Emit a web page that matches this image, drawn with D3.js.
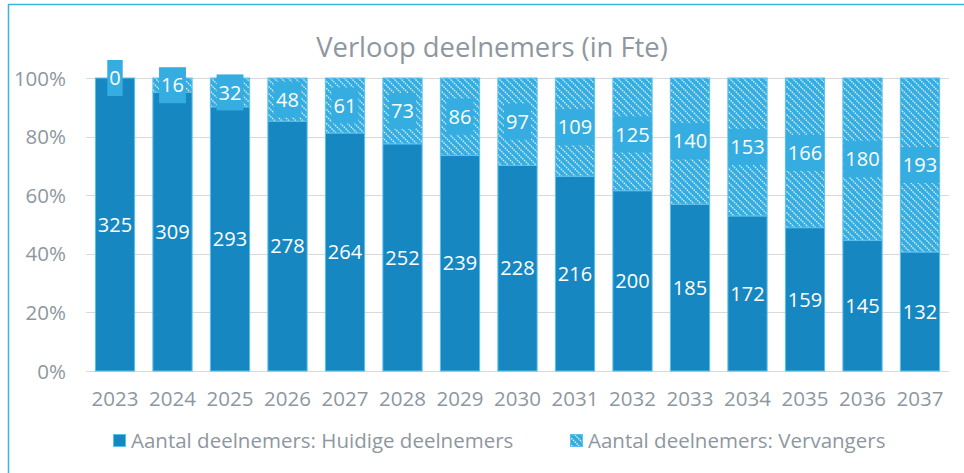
<!DOCTYPE html>
<html><head><meta charset="utf-8">
<script src="https://cdn.jsdelivr.net/npm/d3@7/dist/d3.min.js"></script>
<style>
html,body{margin:0;padding:0;background:#fff;}
svg{display:block;font-family:"Open Sans","Noto Sans",sans-serif;}
</style></head>
<body>
<svg id="chart" width="964" height="473"></svg>
<script>
const years = ["2023","2024","2025","2026","2027","2028","2029","2030","2031","2032","2033","2034","2035","2036","2037"];
const huidige = [325,309,293,278,264,252,239,228,216,200,185,172,159,145,132];
const vervangers = [0,16,32,48,61,73,86,97,109,125,140,153,166,180,193];
const yTicks = [0,0.2,0.4,0.6,0.8,1];
const seriesNames = ["Aantal deelnemers: Huidige deelnemers","Aantal deelnemers: Vervangers"];
const title = "Verloop deelnemers (in Fte)";

const svg = d3.select("#chart");
const W = 964, H = 473;
const darkBlue = "#1787C2", lightBlue = "#35ADE0", edge = "#5BC0EB";
const textGray = "#8E979F";
const axisFont = 20.5;

// border
svg.append("path").attr("d", `M8.5,${H} L8.5,4.5 L${W},4.5`).attr("fill","none").attr("stroke","#3BB3E3").attr("stroke-width",1.5);

// pattern
const defs = svg.append("defs");
const pat = defs.append("pattern").attr("id","hatch").attr("patternUnits","userSpaceOnUse").attr("width",7).attr("height",7);
pat.append("rect").attr("width",7).attr("height",7).attr("fill",lightBlue);
pat.append("path").attr("d","M-1,-1 L8,8 M-1,6 L1,8 M6,-1 L8,1").attr("stroke","#fff").attr("stroke-width",1.3).attr("stroke-opacity",0.85).attr("stroke-dasharray","1.5,1");

const data = years.map((y,i)=>{
  const tot = huidige[i]+vervangers[i];
  return {year:y, h:huidige[i], v:vervangers[i], hp:huidige[i]/tot, vp:vervangers[i]/tot};
});

const x = d3.scaleBand().domain(years).range([86.25,948.75]).paddingInner(0.3).paddingOuter(0.15);
const y = d3.scaleLinear().domain([0,1]).range([371,78]);

// gridlines
svg.append("g").selectAll("line").data(yTicks).join("line")
  .attr("x1",86).attr("x2",949).attr("y1",d=>Math.round(y(d))+0.5).attr("y2",d=>Math.round(y(d))+0.5)
  .attr("stroke","#D9D9D9").attr("stroke-width",1);

// y axis labels
const yAxis = d3.axisLeft(y).tickValues(yTicks).tickFormat(d3.format(".0%")).tickSize(0).tickPadding(0);
const gy = svg.append("g").attr("transform","translate(66,0)").call(yAxis);
gy.select(".domain").remove();
gy.selectAll("text").attr("fill",textGray).attr("font-size",axisFont).attr("font-family","Open Sans").attr("dy","0.35em");

// x axis labels
const xAxis = d3.axisBottom(x).tickSize(0).tickPadding(0);
const gx = svg.append("g").attr("transform","translate(0,391)").call(xAxis);
gx.select(".domain").remove();
gx.selectAll("text").attr("fill",textGray).attr("font-size",axisFont).attr("font-family","Open Sans").attr("dy","0.71em");

// bars
const bw = x.bandwidth();
const bars = svg.append("g");
bars.selectAll("rect.h").data(data).join("rect").attr("class","h")
  .attr("x",d=>x(d.year)+0.5).attr("width",bw-1)
  .attr("y",d=>y(d.hp)).attr("height",d=>y(0)-y(d.hp))
  .attr("fill",darkBlue).attr("stroke",edge).attr("stroke-width",1);
bars.selectAll("rect.v").data(data.filter(d=>d.v>0)).join("rect").attr("class","v")
  .attr("x",d=>x(d.year)+0.5).attr("width",bw-1)
  .attr("y",d=>y(1)).attr("height",d=>y(d.hp)-y(1))
  .attr("fill","url(#hatch)").attr("stroke",edge).attr("stroke-width",1);

// labels huidige
svg.append("g").selectAll("text").data(data).join("text")
  .attr("x",d=>x(d.year)+bw/2).attr("y",d=>y(d.hp/2)).attr("dy","0.36em")
  .attr("text-anchor","middle").attr("fill","#fff").attr("font-size",20).text(d=>d.h);

// labels vervangers with boxes
const vl = svg.append("g").selectAll("g").data(data).join("g")
  .attr("transform",d=>`translate(${x(d.year)+bw/2},${y(d.hp+d.vp/2)})`);
vl.append("rect").attr("fill",lightBlue);
vl.append("text").attr("text-anchor","middle").attr("dy","0.36em").attr("fill","#fff").attr("font-size",20).text(d=>d.v);
vl.each(function(){
  const g = d3.select(this);
  const w = g.select("text").node().getComputedTextLength();
  g.select("rect").attr("x",-w/2-2).attr("width",w+4).attr("y",-18).attr("height",36);
});

// title
svg.append("text").attr("x",492).attr("y",57).attr("text-anchor","middle")
  .attr("fill",textGray).attr("font-size",27.4).text(title);

// legend
const leg = svg.append("g");
const lx = [113,570];
seriesNames.forEach((n,i)=>{
  leg.append("rect").attr("x",lx[i]+0.5).attr("y",434.5).attr("width",12).attr("height",12)
    .attr("fill",i===0?darkBlue:"url(#hatch)").attr("stroke",edge).attr("stroke-width",1);
  leg.append("text").attr("x",lx[i]+18).attr("y",441).attr("dy","0.35em")
    .attr("fill",textGray).attr("font-size",axisFont).text(n);
});
</script>
</body></html>
